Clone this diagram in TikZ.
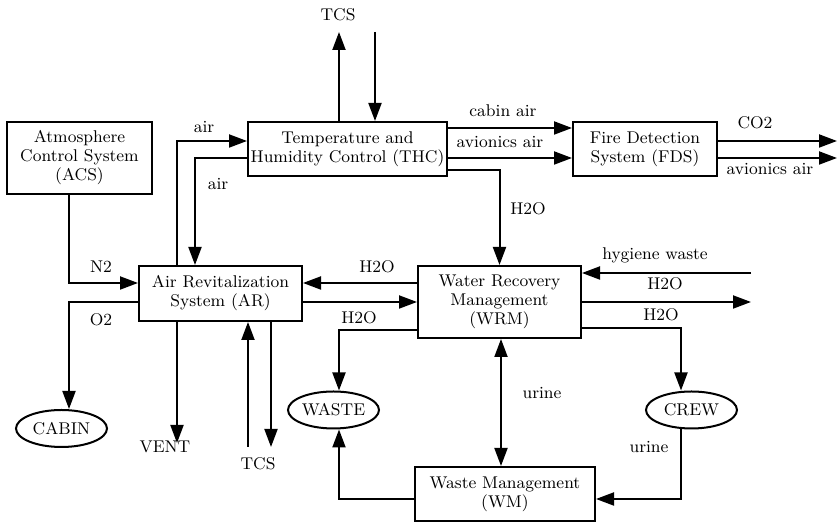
\documentclass[tikz,border=0pt]{standalone}
\usepackage{fontspec}
\usepackage{tikz}
\usetikzlibrary{positioning,shapes,arrows.meta}

\begin{document}
\begin{tikzpicture}[x=0.5pt, y=-0.5pt,
    every node/.style={font=\fontsize{8.5}{9.5}\selectfont},
    block/.style={rectangle, draw, line width=1pt, align=center, inner sep=1pt},
    sink/.style={ellipse, draw, line width=1pt, minimum width=45.5pt, minimum height=18.5pt, inner sep=0pt},
    lbl/.style={inner sep=0pt},
    flow/.style={-{Triangle[length=9pt,width=6.5pt]}, line width=1pt},
    biflow/.style={{Triangle[length=9pt,width=6.5pt]}-{Triangle[length=9pt,width=6.5pt]}, line width=1pt}]

    \useasboundingbox (0,0) rectangle (837,522);

    % Subsystems
    \node[block, minimum width=72.5pt, minimum height=36pt] (acs) at (79.5,158) {Atmosphere\\Control System\\(ACS)};
    \node[block, minimum width=99.5pt, minimum height=27pt] (thc) at (347.5,149) {Temperature and\\Humidity Control (THC)};
    \node[block, minimum width=72pt, minimum height=27pt, right=62pt of thc] (fds) {Fire Detection\\System (FDS)};
    \node[block, minimum width=81.5pt, minimum height=27.5pt] (ar) at (220.5,293.5) {Air Revitalization\\System (AR)};
    \node[block, minimum width=81.5pt, minimum height=36pt] (wrm) at (499.5,302) {Water Recovery\\Management\\(WRM)};
    \node[block, minimum width=90pt, minimum height=27pt] (wm) at (505,494) {Waste Management\\(WM)};

    % Sinks
    \node[sink] (cabin) at (61.5,428.5) {CABIN};
    \node[sink] (waste) at (333.5,410) {WASTE};
    \node[sink] (crew) at (691.5,410) {CREW};

    % Free ends
    \coordinate (tcsout) at (339,32);
    \coordinate (tcsin) at (375,32);
    \coordinate (co2end) at (837,141);
    \coordinate (avend) at (837,158);
    \coordinate (hygstart) at (751,273);
    \coordinate (h2oend) at (751,302);
    \coordinate (ventend) at (177,443);
    \coordinate (tcsarin) at (248,447);
    \coordinate (tcsarout) at (271,447);

    % Flows
    \draw[flow] (tcsout |- thc.north) -- (tcsout);
    \draw[flow] (tcsin) -- (tcsin |- thc.north);
    \draw[flow] ([xshift=-21.75pt]ar.north) |- ([yshift=4pt]thc.west);
    \draw[flow] ([yshift=-4.5pt]thc.west) -| ([xshift=-12.75pt]ar.north);
    \draw[flow] ([yshift=10.5pt]thc.east) -- ([yshift=10.5pt]fds.west);
    \draw[flow] ([yshift=-4.5pt]thc.east) -- ([yshift=-4.5pt]fds.west);
    \draw[flow] (fds.east |- co2end) -- (co2end);
    \draw[flow] (fds.east |- avend) -- (avend);
    \draw[flow] ([yshift=-10.5pt]thc.east) -| (wrm.north);
    \draw[flow] ([xshift=-5.25pt]acs.south) |- ([yshift=5.25pt]ar.west);
    \draw[flow] ([yshift=-4.25pt]ar.west) -| ([xshift=3.75pt]cabin.north);
    \draw[flow] ([yshift=9.5pt]wrm.west) -- ([yshift=5.25pt]ar.east);
    \draw[flow] ([yshift=-4.25pt]ar.east) -- (wrm.west);
    \draw[flow] ([xshift=-21.75pt]ar.south) -- (ventend);
    \draw[flow] (tcsarin) -- (tcsarin |- ar.south);
    \draw[flow] (tcsarout |- ar.south) -- (tcsarout);
    \draw[flow] ([yshift=-14pt]wrm.west) -| ([xshift=2.75pt]waste.north);
    \draw[flow] ([yshift=-2.5pt]wm.west) -| ([xshift=2.75pt]waste.south);
    \draw[flow] (hygstart) -- (wrm.east |- hygstart);
    \draw[flow] (wrm.east) -- (h2oend);
    \draw[flow] ([yshift=-13pt]wrm.east) -| ([xshift=-5.25pt]crew.north);
    \draw[flow] ([xshift=-5.25pt]crew.south) |- ([yshift=-2.5pt]wm.east);
    \draw[biflow] ([xshift=0.75pt]wrm.south) -- ([xshift=0.75pt]wrm.south |- wm.north);

    % Labels
    \node[lbl] (ltcstop) at (338,15) {TCS};
    \node[lbl] (lairin) at (204,127) {air};
    \node[lbl] (lairout) at (218,184) {air};
    \node[lbl] (lcabinair) at (503,111) {cabin air};
    \node[lbl] (lavionics) at (500,142) {avionics air};
    \node[lbl] (lco2) at (755,123) {CO2};
    \node[lbl] (lavout) at (770,169) {avionics air};
    \node[lbl] (lthcwater) at (528,209) {H2O};
    \node[lbl] (ln2) at (101,267) {N2};
    \node[lbl] (lo2) at (101,320) {O2};
    \node[lbl] (lwrmar) at (377,267) {H2O};
    \node[lbl] (lwaste) at (359,318) {H2O};
    \node[lbl] (lvent) at (165,447) {VENT};
    \node[lbl] (ltcsbot) at (258,464) {TCS};
    \node[lbl] (lhygiene) at (655,255) {hygiene waste};
    \node[lbl] (lwaterout) at (665,284) {H2O};
    \node[lbl] (lcrew) at (661,315) {H2O};
    \node[lbl] (lurine) at (542,393) {urine};
    \node[lbl] (lurinecrew) at (649,447) {urine};
\end{tikzpicture}
\end{document}
